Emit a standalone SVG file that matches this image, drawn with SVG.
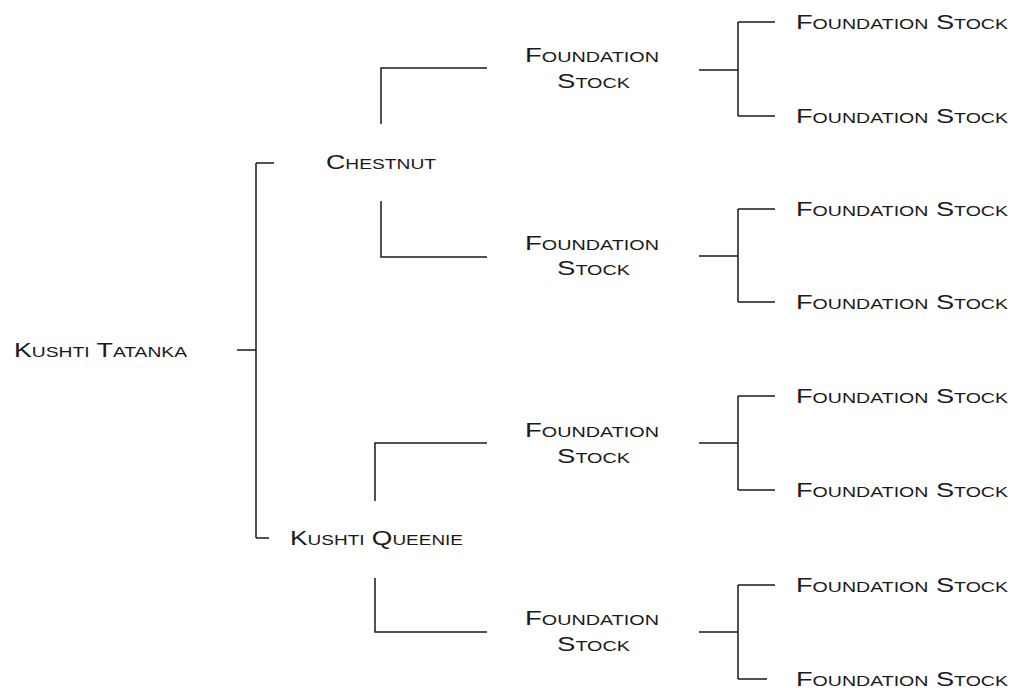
<svg xmlns="http://www.w3.org/2000/svg" width="1014" height="688" viewBox="0 0 1014 688">
<style>
.t{font-family:"Liberation Sans",Arial,sans-serif;font-size:19.5px;font-variant:small-caps;fill:#1a1a1a}
.c{fill:none;stroke:#1a1a1a;stroke-width:1.5}
</style>
<rect width="1014" height="688" fill="#fff"/>
<g id="connectors" class="c">
<path d="M237,350H256M256,163V538M256,163H274M256,538H269"/>
<path d="M381,124V68H487M381,201V257H487"/>
<path d="M375,501V443H487M375,578V632H487"/>
<path d="M699,70H738M738,22V116M738,22H775M738,116H775"/>
<path d="M699,256H738M738,209V302M738,209H775M738,302H775"/>
<path d="M699,443H738M738,396V490M738,396H775M738,490H775"/>
<path d="M699,632H738M738,585V679M738,585H775M738,679H767"/>
</g>
<g id="n-root"><text class="t" x="14" y="357" textLength="173" lengthAdjust="spacingAndGlyphs">Kushti Tatanka</text></g>
<g id="n-chestnut"><text class="t" x="326" y="169" textLength="110" lengthAdjust="spacingAndGlyphs">Chestnut</text></g>
<g id="n-queenie"><text class="t" x="290" y="545" textLength="173" lengthAdjust="spacingAndGlyphs">Kushti Queenie</text></g>
<g id="n-fs1"><text class="t" x="525" y="62" textLength="134" lengthAdjust="spacingAndGlyphs">Foundation</text><text class="t" x="557" y="88" textLength="73" lengthAdjust="spacingAndGlyphs">Stock</text></g>
<g id="n-fs2"><text class="t" x="525" y="250" textLength="134" lengthAdjust="spacingAndGlyphs">Foundation</text><text class="t" x="557" y="275" textLength="73" lengthAdjust="spacingAndGlyphs">Stock</text></g>
<g id="n-fs3"><text class="t" x="525" y="437" textLength="134" lengthAdjust="spacingAndGlyphs">Foundation</text><text class="t" x="557" y="463" textLength="73" lengthAdjust="spacingAndGlyphs">Stock</text></g>
<g id="n-fs4"><text class="t" x="525" y="625" textLength="134" lengthAdjust="spacingAndGlyphs">Foundation</text><text class="t" x="557" y="651" textLength="73" lengthAdjust="spacingAndGlyphs">Stock</text></g>
<g id="n-r1"><text class="t" x="796" y="29" textLength="212" lengthAdjust="spacingAndGlyphs">Foundation Stock</text></g>
<g id="n-r2"><text class="t" x="796" y="123" textLength="212" lengthAdjust="spacingAndGlyphs">Foundation Stock</text></g>
<g id="n-r3"><text class="t" x="796" y="216" textLength="212" lengthAdjust="spacingAndGlyphs">Foundation Stock</text></g>
<g id="n-r4"><text class="t" x="796" y="309" textLength="212" lengthAdjust="spacingAndGlyphs">Foundation Stock</text></g>
<g id="n-r5"><text class="t" x="796" y="403" textLength="212" lengthAdjust="spacingAndGlyphs">Foundation Stock</text></g>
<g id="n-r6"><text class="t" x="796" y="497" textLength="212" lengthAdjust="spacingAndGlyphs">Foundation Stock</text></g>
<g id="n-r7"><text class="t" x="796" y="592" textLength="212" lengthAdjust="spacingAndGlyphs">Foundation Stock</text></g>
<g id="n-r8"><text class="t" x="796" y="686" textLength="212" lengthAdjust="spacingAndGlyphs">Foundation Stock</text></g>
</svg>
